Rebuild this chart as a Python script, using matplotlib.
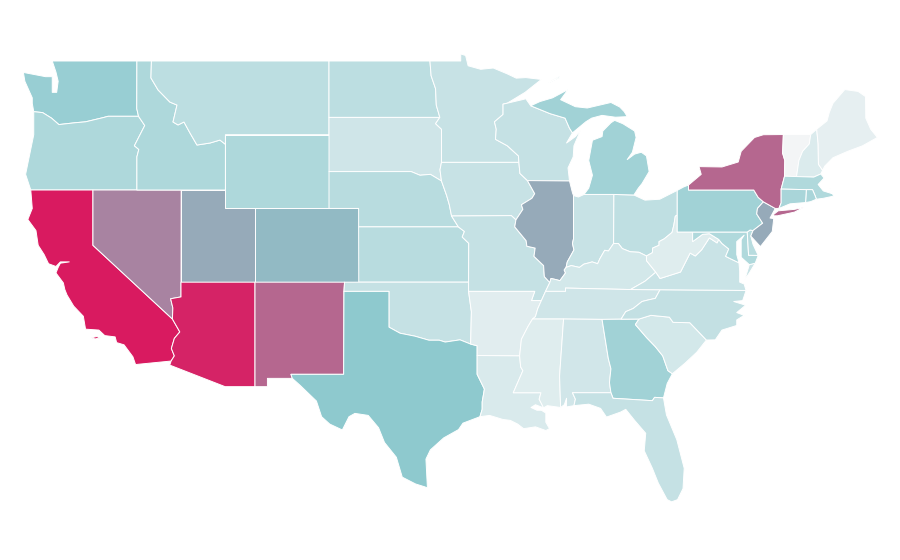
import matplotlib
matplotlib.use("Agg")
import matplotlib.pyplot as plt
from matplotlib.colors import LinearSegmentedColormap, Normalize

# shared borders (lon, lat), walked north->south or west->east
red_river_n = [(-97.23,49.0),(-97.15,48.2),(-96.85,47.5),(-96.8,46.6),(-96.56,45.94)]
sd_mn = [(-96.56,45.94),(-96.85,45.6),(-96.45,45.3),(-96.45,43.5)]
sd_ia = [(-96.45,43.5),(-96.55,43.1),(-96.45,42.49)]
sd_ne = [(-96.45,42.49),(-97.2,42.85),(-97.9,42.8),(-98.5,43.0),(-104.05,43.0)]
ne_ia = [(-96.45,42.49),(-96.1,41.7),(-95.92,41.2),(-95.77,40.59)]
ne_mo = [(-95.77,40.59),(-95.31,40.0)]
ks_mo = [(-95.31,40.0),(-94.9,39.75),(-95.05,39.45),(-94.61,39.11),(-94.62,37.0)]
mn_wi = [(-92.01,46.71),(-92.29,46.66),(-92.29,46.1),(-92.87,45.7),(-92.75,45.3),(-92.8,44.75),(-92.0,44.4),(-91.25,43.85),(-91.22,43.5)]
wi_ia = [(-91.22,43.5),(-91.15,42.9),(-90.64,42.51)]
il_ia = [(-90.64,42.51),(-90.15,41.8),(-90.34,41.55),(-91.05,41.2),(-90.95,40.95),(-91.42,40.38)]
il_mo = [(-91.42,40.38),(-91.5,40.0),(-90.73,39.25),(-90.68,38.95),(-90.12,38.85),(-90.2,38.4),(-89.55,37.9),(-89.5,37.3),(-89.13,36.98)]
mo_ky = [(-89.13,36.98),(-89.42,36.5)]
mo_tn = [(-89.42,36.5),(-89.7,36.0)]
ar_tn = [(-89.7,36.0),(-89.95,35.55),(-90.1,35.13),(-90.3,35.0)]
ar_ms = [(-90.3,35.0),(-90.6,34.6),(-91.05,33.9),(-91.17,33.0)]
la_ms = [(-91.17,33.0),(-91.1,32.4),(-90.95,32.2),(-91.6,31.0),(-89.73,31.0),(-89.85,30.65),(-89.55,30.18)]
il_ky = [(-89.13,36.98),(-89.05,37.2),(-88.72,37.14),(-88.45,37.08),(-88.07,37.5),(-88.16,37.66),(-88.03,37.8)]
in_ky = [(-88.03,37.8),(-87.68,37.9),(-87.13,37.8),(-86.82,37.98),(-86.52,38.04),(-86.27,38.1),(-85.9,38.0),(-85.75,38.27),(-85.42,38.73),(-85.17,38.69),(-84.82,39.1)]
oh_ky = [(-84.82,39.1),(-84.5,39.1),(-84.23,38.82),(-83.7,38.65),(-83.1,38.62),(-82.6,38.42)]
oh_wv = [(-82.6,38.42),(-82.2,38.6),(-82.18,38.85),(-81.75,39.0),(-81.75,39.2),(-81.4,39.35),(-80.87,39.7),(-80.75,40.1),(-80.65,40.58),(-80.52,40.64)]
il_in = [(-87.53,41.7),(-87.53,39.35),(-87.6,39.1),(-87.5,38.75),(-87.95,38.1),(-88.03,37.8)]
in_mi = [(-86.82,41.76),(-84.8,41.76)]
oh_in = [(-84.8,41.76),(-84.82,39.1)]
wi_mi = [(-90.42,46.57),(-89.1,46.14),(-88.1,45.9),(-87.8,45.35),(-87.6,45.1)]
id_mt = [(-116.05,49.0),(-116.08,48.08),(-115.6,47.43),(-114.8,46.77),(-114.32,46.61),(-114.59,45.69),(-114.25,45.53),(-113.85,45.69),(-113.44,45.09),(-112.97,44.44),(-112.09,44.55),(-111.42,44.71),(-111.05,44.48)]
or_id = [(-117.03,42.0),(-117.03,43.8),(-116.9,44.2),(-117.2,44.4),(-116.5,45.5),(-116.92,46.0)]
or_wa = [(-116.92,46.0),(-118.98,46.0),(-119.3,45.93),(-120.5,45.7),(-121.2,45.65),(-122.3,45.55),(-122.8,45.9),(-123.4,46.2),(-124.0,46.25)]
ca_az = [(-114.63,35.0),(-114.13,34.3),(-114.5,33.95),(-114.7,33.4),(-114.5,33.0),(-114.72,32.72)]
az_nv = [(-114.05,36.2),(-114.75,36.1),(-114.6,35.6),(-114.63,35.0)]
ok_red = [(-100.0,34.56),(-99.25,34.23),(-98.25,34.07),(-97.3,33.85),(-96.6,33.85),(-96.2,33.75),(-95.2,33.87),(-94.48,33.64)]
la_tx = [(-94.04,33.02),(-94.04,32.0),(-93.55,31.2),(-93.7,30.5),(-93.7,30.1),(-93.85,29.7)]
ar_ok = [(-94.62,36.5),(-94.43,35.4),(-94.48,33.64)]
nc_tn = [(-84.32,34.99),(-84.0,35.4),(-83.5,35.57),(-82.9,35.95),(-82.4,36.05),(-82.0,36.12),(-81.68,36.59)]
nc_sc = [(-83.1,35.0),(-82.3,35.2),(-81.05,35.1),(-80.8,34.82),(-79.67,34.8),(-78.55,33.86)]
ga_sc = [(-83.1,35.0),(-83.35,34.7),(-82.6,34.0),(-82.0,33.5),(-81.5,33.0),(-81.15,32.2),(-80.85,32.03)]
al_ga = [(-85.6,34.98),(-85.18,32.87),(-85.0,32.3),(-85.1,31.55),(-85.0,31.0)]
fl_ga = [(-85.0,31.0),(-84.86,30.7),(-82.2,30.57),(-82.05,30.75),(-81.45,30.72)]
al_ms = [(-88.2,35.0),(-88.47,31.9),(-88.4,30.2)]
al_fl = [(-85.0,31.0),(-87.6,31.0),(-87.4,30.65),(-87.5,30.3)]
va_wv = [(-77.72,39.32),(-77.83,39.13),(-78.35,39.4),(-78.87,38.76),(-79.3,38.42),(-79.65,38.58),(-80.3,37.55),(-81.68,37.2),(-81.97,37.54)]
ky_va = [(-81.97,37.54),(-82.7,37.05),(-83.68,36.6)]
md_va = [(-76.35,38.05),(-77.0,38.3),(-77.25,38.4),(-77.04,38.8),(-77.5,39.1),(-77.72,39.32)]
md_wv = [(-77.72,39.32),(-78.35,39.63),(-78.8,39.6),(-79.48,39.2),(-79.48,39.72)]
ny_pa = [(-79.76,42.0),(-75.35,42.0),(-75.05,41.6),(-74.7,41.36)]
nj_pa = [(-74.7,41.36),(-75.1,41.0),(-75.15,40.7),(-74.75,40.2),(-75.4,39.8)]
de_nj = [(-75.4,39.8),(-75.55,39.5)]
nh_vt = [(-71.5,45.01),(-71.6,44.5),(-72.05,44.1),(-72.3,43.6),(-72.46,42.73)]
ny_vt = [(-73.35,45.01),(-73.4,44.0),(-73.25,43.6),(-73.27,42.75)]
me_nh = [(-71.1,45.3),(-71.0,44.5),(-70.98,43.4),(-70.7,43.07)]


def rev(seg):
    return seg[::-1]


WA = [(-124.7,48.38),(-123.2,48.15),(-122.75,48.15),(-122.75,47.3),(-122.45,47.3),(-122.35,47.9),(-122.5,48.4),(-122.75,49.0),(-117.03,49.0),(-117.04,46.42)] + or_wa + [(-124.1,46.7),(-124.1,47.0),(-124.6,47.9)]
OR = [(-124.2,42.0)] + or_id + or_wa[1:] + [(-124.0,45.0),(-124.55,42.85)]
CA = [(-124.2,42.0),(-120.0,42.0),(-120.0,39.0)] + ca_az + [(-117.12,32.53),(-117.3,32.95),(-117.9,33.6),(-118.4,33.72),(-118.5,34.03),(-119.2,34.1),(-119.6,34.4),(-120.5,34.45),(-120.65,35.15),(-121.3,35.7),(-121.75,36.3),(-121.9,36.6),(-122.0,36.96),(-122.5,37.5),(-122.35,37.8),(-122.2,38.03),(-121.6,38.1),(-122.2,38.1),(-122.5,37.85),(-123.0,38.0),(-123.3,38.5),(-123.7,39.0),(-123.85,39.8),(-124.4,40.4),(-124.1,41.0)]
CA_ISLE = [(-120.1,33.98),(-119.75,34.05),(-119.5,33.98),(-119.85,33.92)]
NV = [(-120.0,42.0),(-114.04,42.0)] + az_nv + [(-120.0,39.0)]
ID = [(-117.03,49.0)] + id_mt + [(-111.05,42.0)] + or_id + [(-117.04,46.42)]
MT = id_mt + [(-111.05,45.0),(-104.05,45.0),(-104.05,49.0)]
WY = [(-111.05,45.0),(-104.05,45.0),(-104.05,41.0),(-111.05,41.0)]
UT = [(-114.04,42.0),(-111.05,42.0),(-111.05,41.0),(-109.05,41.0),(-109.05,37.0),(-114.05,37.0)]
CO = [(-109.05,41.0),(-102.05,41.0),(-102.05,37.0),(-109.05,37.0)]
AZ = [(-114.05,37.0),(-109.05,37.0),(-109.05,31.33),(-111.07,31.33),(-114.81,32.5)] + rev(ca_az) + rev(az_nv)
NM = [(-109.05,37.0),(-103.0,37.0),(-103.04,36.5),(-103.06,32.0),(-106.62,32.0),(-106.53,31.78),(-108.21,31.78),(-108.21,31.33),(-109.05,31.33)]
ND = [(-104.05,49.0)] + red_river_n + [(-104.05,45.94)]
SD = [(-104.05,45.94)] + sd_mn + sd_ia[1:] + sd_ne[1:]
NE = [(-104.05,41.0)] + rev(sd_ne) + ne_ia[1:] + ne_mo[1:] + [(-102.05,40.0),(-102.05,41.0)]
KS = [(-102.05,40.0)] + ks_mo + [(-102.04,37.0)]
OK = [(-103.0,37.0),(-94.62,37.0)] + ar_ok + rev(ok_red)[1:] + [(-100.0,36.5),(-103.04,36.5)]
TX = [(-103.04,36.5),(-100.0,36.5)] + ok_red + [(-94.04,33.55)] + la_tx + [(-95.0,29.35),(-95.3,29.0),(-96.3,28.55),(-97.2,27.9),(-97.5,27.4),(-97.45,26.6),(-97.4,25.84),(-97.6,25.9),(-98.2,26.05),(-99.1,26.42),(-99.5,27.5),(-100.3,28.3),(-100.7,29.1),(-101.4,29.77),(-102.3,29.88),(-102.7,29.7),(-103.15,28.98),(-104.0,29.3),(-104.55,29.7),(-104.9,30.55),(-106.0,31.4),(-106.53,31.78),(-106.62,32.0),(-103.06,32.0)]
MN = [(-97.23,49.0),(-95.15,49.0),(-95.15,49.38),(-94.82,49.3),(-94.65,48.74),(-93.8,48.55),(-92.95,48.62),(-92.0,48.3),(-91.4,48.07),(-90.75,48.1),(-89.7,48.0),(-90.8,47.3)] + mn_wi + rev(sd_mn) + rev(red_river_n)[1:]
IA = [(-96.45,43.5),(-91.22,43.5)] + wi_ia[1:] + il_ia[1:] + [(-91.73,40.61),(-95.77,40.59)] + rev(ne_ia)[1:] + rev(sd_ia)[1:]
MO = [(-95.77,40.59),(-91.73,40.61)] + il_mo + mo_ky[1:] + mo_tn[1:] + [(-90.37,36.0),(-90.15,36.5),(-94.62,36.5)] + rev(ks_mo) + [(-95.77,40.59)]
AR = [(-94.62,36.5),(-90.15,36.5),(-90.37,36.0)] + ar_tn + ar_ms[1:] + [(-94.04,33.02),(-94.04,33.55)] + rev(ar_ok)
LA = [(-94.04,33.02)] + la_ms + [(-90.1,30.35),(-90.4,30.2),(-90.0,30.05),(-89.7,30.05),(-89.4,29.9),(-89.4,29.4),(-89.15,29.05),(-89.4,28.95),(-90.1,29.15),(-90.9,29.05),(-91.3,29.3),(-91.8,29.5),(-92.3,29.55),(-93.2,29.77)] + rev(la_tx)
WI = [(-92.01,46.71),(-91.0,46.9),(-90.75,46.95)] + wi_mi + [(-88.0,44.55),(-87.4,44.9),(-87.05,45.25),(-87.5,44.4),(-87.55,43.8),(-87.9,43.2),(-87.8,42.49),(-90.64,42.51)] + rev(wi_ia)[1:] + rev(mn_wi)[1:]
IL = [(-90.64,42.51),(-87.8,42.49),(-87.6,41.85)] + il_in + rev(il_ky)[1:] + rev(il_mo)[1:] + rev(il_ia)[1:]
IN = [(-87.53,41.7),(-87.2,41.62)] + in_mi + oh_in[1:] + rev(in_ky)[1:] + rev(il_in)[1:]
OH = [(-84.8,41.76),(-83.45,41.73),(-82.7,41.45),(-81.7,41.5),(-80.52,41.98),(-80.52,40.64)] + rev(oh_wv)[1:] + rev(oh_ky)[1:]
MI = [(-86.82,41.76),(-86.5,42.1),(-86.25,42.8),(-86.5,43.6),(-86.25,44.7),(-85.6,44.9),(-85.55,45.2),(-85.0,45.65),(-84.75,45.78),(-84.2,45.6),(-83.4,45.2),(-83.3,44.85),(-83.55,44.05),(-83.9,43.65),(-83.4,43.95),(-82.95,44.05),(-82.6,43.85),(-82.42,43.0),(-82.9,42.35),(-83.15,42.1),(-83.45,41.73),(-84.8,41.76)]
MI_UP = wi_mi + [(-86.7,45.7),(-86.3,45.9),(-85.6,46.05),(-84.7,45.95),(-83.9,45.98),(-84.1,46.25),(-84.4,46.5),(-85.0,46.75),(-86.6,46.45),(-87.4,46.52),(-88.4,46.9),(-87.9,47.45),(-88.95,47.0),(-89.8,46.8)]
MI_ISLE = [(-89.2,47.85),(-88.5,48.15),(-88.45,48.1),(-89.1,47.85)]
KY = il_ky + in_ky[1:] + oh_ky[1:] + [(-82.6,38.17)] + ky_va + [(-86.5,36.65),(-88.07,36.68),(-88.07,36.5),(-89.42,36.5)]
TN = [(-81.68,36.59),(-83.68,36.6),(-86.5,36.65),(-88.07,36.68),(-88.07,36.5)] + mo_tn + ar_tn[1:] + [(-88.2,35.0),(-85.6,34.98)] + nc_tn
MS = [(-90.3,35.0),(-88.2,35.0)] + al_ms[1:] + [(-89.3,30.3)] + rev(la_ms) + rev(ar_ms)[1:]
AL = [(-88.2,35.0)] + al_ga + al_fl[1:] + [(-88.0,30.23),(-88.0,30.7),(-88.15,30.35)] + rev(al_ms)
GA = [(-85.6,34.98),(-84.32,34.99)] + ga_sc + [(-81.2,31.5)] + rev(fl_ga) + rev(al_ga)[1:]
FL = rev(al_fl) + fl_ga[1:] + [(-81.25,29.8),(-80.55,28.45),(-80.05,26.9),(-80.13,25.8),(-80.5,25.2),(-80.9,25.08),(-81.2,25.2),(-81.8,26.1),(-82.2,26.9),(-82.75,27.85),(-82.65,28.8),(-83.4,29.5),(-84.0,30.1),(-84.35,29.95),(-85.3,29.68),(-85.7,30.15),(-86.5,30.38)]
SC = nc_sc + [(-79.2,33.2),(-80.0,32.6)] + rev(ga_sc)
NC = nc_tn + [(-75.87,36.55),(-76.1,36.0),(-76.7,35.95),(-75.9,35.75),(-76.5,35.35),(-76.0,35.2),(-76.5,34.95),(-76.5,34.65),(-77.5,34.4),(-77.95,33.87)] + rev(nc_sc)
VA = [(-83.68,36.6),(-81.68,36.59),(-75.87,36.55),(-76.0,36.9),(-76.3,37.0),(-76.3,37.6)] + md_va + va_wv[1:] + ky_va[1:]
VA_SHORE = [(-75.25,38.03),(-75.65,37.95),(-75.95,37.15),(-75.65,37.5)]
WV = [(-80.52,40.64),(-80.52,39.72)] + rev(md_wv) + va_wv[1:] + [(-82.6,38.17)] + oh_wv
MD = [(-79.48,39.72),(-75.79,39.72),(-75.7,38.46),(-75.05,38.45),(-75.25,38.03),(-75.65,37.95),(-76.2,38.35),(-76.2,39.3),(-76.0,39.55),(-76.5,39.2),(-76.5,38.5)] + md_va + md_wv[1:]
DE = [(-75.79,39.72),(-75.6,39.83)] + de_nj + [(-75.4,39.05),(-75.05,38.45),(-75.7,38.46)]
PA = [(-80.52,41.98),(-80.08,42.17),(-79.76,42.27)] + ny_pa + nj_pa[1:] + [(-75.6,39.83),(-75.79,39.72),(-80.52,39.72),(-80.52,40.64)]
NJ = rev(nj_pa) + [(-73.9,41.0),(-74.25,40.48),(-74.0,40.45),(-74.1,39.75),(-74.9,38.93)] + de_nj[1:]
NY = [(-79.76,42.27),(-78.9,42.85),(-79.05,43.27),(-77.5,43.25),(-76.4,43.52),(-76.2,44.1),(-75.3,44.85),(-74.7,45.0)] + ny_vt + [(-73.5,42.05),(-73.5,41.3),(-73.65,41.0),(-73.9,41.0)] + rev(ny_pa)
NY_LI = [(-74.03,40.6),(-73.75,40.6),(-72.6,40.8),(-72.0,41.05),(-72.6,40.95),(-73.7,40.87),(-74.0,40.68)]
VT = ny_vt + [(-72.46,42.73)] + rev(nh_vt)
NH = nh_vt + [(-71.3,42.7),(-70.82,42.87),(-70.7,43.07)] + rev(me_nh)
ME = me_nh + [(-70.55,43.3),(-70.0,43.75),(-69.0,44.1),(-68.0,44.4),(-67.0,44.85),(-67.45,45.3),(-67.78,45.9),(-67.8,47.07),(-68.3,47.35),(-69.2,47.45),(-70.0,46.7),(-70.25,46.2),(-70.4,45.75)]
MA = [(-73.5,42.05),(-73.27,42.75),(-72.46,42.73),(-71.3,42.7),(-70.82,42.87),(-70.6,42.65),(-71.0,42.3),(-70.65,41.95),(-70.05,41.8),(-70.2,42.07),(-69.95,41.67),(-70.65,41.55),(-71.12,41.5),(-71.2,41.68),(-71.38,42.02),(-71.8,42.02)]
RI = [(-71.8,42.02),(-71.38,42.02),(-71.2,41.68),(-71.12,41.5),(-71.5,41.37),(-71.85,41.32)]
CT = [(-73.5,42.05),(-71.8,42.02),(-71.85,41.32),(-72.9,41.25),(-73.65,41.0),(-73.5,41.3)]

shapes = [[WA],[OR],[CA,CA_ISLE],[NV],[ID],[MT],[WY],[UT],[CO],[AZ],[NM],[ND],[SD],[NE],[KS],[OK],[TX],
          [MN],[IA],[MO],[AR],[LA],[WI],[IL],[IN],[OH],[MI,MI_UP,MI_ISLE],[KY],[TN],[MS],[AL],[GA],[FL],[SC],[NC],
          [VA,VA_SHORE],[WV],[MD],[DE],[PA],[NJ],[NY,NY_LI],[VT],[NH],[ME],[MA],[RI],[CT]]
# values, same order as shapes
values = [45,34,100,69.5,34,27,34,58,54,97,77.5,27,18,29,29,23,50,
          22,22,23,9,13,23,58,22,26,41,16,18,10,17,41,23,16,24,
          21,10,33,29,41,58,77.5,0,12,7,33,37,37]

cmap = LinearSegmentedColormap.from_list("teal_crimson", [(0, "#f3f5f6"), (0.5, "#8ecacf"), (0.58, "#96aab9"), (1, "#d91a60")])
norm = Normalize(0, 100)

fig = plt.figure(figsize=(9, 5.6), dpi=100)
ax = fig.add_axes([0, 0, 1, 1])
for parts, val in zip(shapes, values):
    for part in parts:
        lons, lats = zip(*part)
        ax.fill(lons, lats, facecolor=cmap(norm(val)), edgecolor="white", linewidth=0.7, joinstyle="round")

# plate is plain lon/lat, lon stretched by about 1/cos(37)
ax.set_xlim(-126.28, -126.28 + 900 / 14.8)
ax.set_ylim(52.31 - 560 / 18.43, 52.31)
ax.axis("off")
fig.savefig("out.png", dpi=100)
